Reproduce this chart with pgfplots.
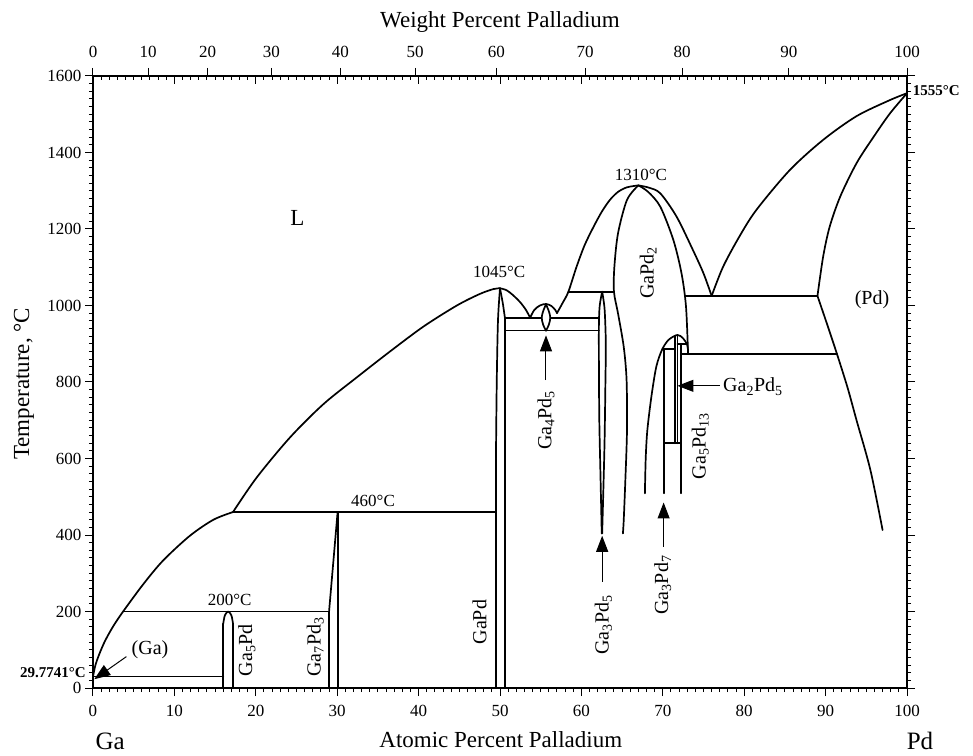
\documentclass[border=0pt]{standalone}
\usepackage{fontspec}
\setmainfont{Liberation Serif}
\usepackage{pgfplots}
\pgfplotsset{compat=1.18}
\usetikzlibrary{arrows.meta}
\begin{document}
\begin{tikzpicture}
\useasboundingbox (-93pt,-67pt) rectangle (880pt,688pt);
\pgfplotsset{
  base/.style={at={(0,0)}, anchor=south west, scale only axis,
    width=814pt, height=612pt, xmin=0, xmax=100, ymin=0, ymax=1600,
    axis line style={line width=1.2pt},
    major tick length=8pt, minor tick length=4pt,
    tick style={black, line width=1pt},
    /pgf/number format/assume math mode=true,
    /pgf/number format/1000 sep={},
    ticklabel style={font=\fontsize{17}{17}\selectfont}},
}
\tikzset{
  ph/.style={black, line width=1.7pt, line cap=round, line join=round},
  lab/.style={font=\fontsize{20}{20}\selectfont, inner sep=0pt},
  tlab/.style={font=\fontsize{17}{17}\selectfont, inner sep=0pt},
  arr/.style={line width=1pt, -{Triangle[length=16pt,width=12pt]}},
}
\begin{axis}[base, xtick={0,10,...,100}, minor x tick num=9,
  ytick={0,200,...,1600}, minor y tick num=9, tick align=outside,
  xtick pos=left, ytick pos=both, yticklabel pos=left, clip=false,
  xticklabel style={yshift=-6pt}]
% lower liquidus
\addplot[ph,smooth] coordinates {(0,29.8)(0.3,60)(0.8,90)(1.5,124)(2.5,162)(3.7,200)(6.2,272)(8.6,333)(11.9,398)(14.8,440)(17.2,460)};
% upper liquidus to GaPd
\addplot[ph,smooth] coordinates {(17.2,460)(20.1,550)(24.2,655)(28.3,742)(32.4,812)(36.5,880)(40.6,945)(44.7,1000)(47.5,1030)(49.2,1043)(50,1045)};
% invariant lines
\addplot[ph] coordinates {(17.2,460)(49.5,460)};
\addplot[ph] coordinates {(3.7,200)(29.0,200)};
\addplot[ph] coordinates {(0,29.8)(16.0,29.8)};
% Ga5Pd
\addplot[ph] coordinates {(16.0,0)(16.0,168)};
\addplot[ph] coordinates {(17.2,0)(17.2,168)};
\addplot[ph,smooth] coordinates {(16.0,168)(16.2,190)(16.6,200)(17.0,190)(17.2,168)};
% Ga7Pd3
\addplot[ph] coordinates {(29.0,0)(29.0,200)(30.05,460)};
\addplot[ph] coordinates {(30.1,460)(30.1,0)};
% GaPd
\addplot[ph,smooth] coordinates {(50,1045)(49.75,960)(49.6,800)(49.5,600)};
\addplot[ph] coordinates {(49.5,600)(49.5,0)};
\addplot[ph,smooth] coordinates {(50,1045)(50.35,1005)(50.6,968)};
\addplot[ph] coordinates {(50.6,968)(50.6,0)};
\addplot[ph] coordinates {(50.6,968)(55.12,968)};
\addplot[ph] coordinates {(56.18,968)(62.15,968)};
\addplot[ph] coordinates {(50.6,935)(62.15,935)};
% liquidus GaPd -> Ga4Pd5
\addplot[ph,smooth] coordinates {(50,1045)(50.8,1040)(51.6,1027)(52.5,1008)(53.2,988)(53.7,968)};
\addplot[ph,smooth] coordinates {(53.7,968)(54.2,988)(54.9,1000)(55.65,1004)(56.3,999)(56.8,988)(57.0,980)};
% Ga4Pd5 lens
\addplot[ph,smooth] coordinates {(55.65,1003)(55.3,985)(55.12,968)(55.3,950)(55.65,934)};
\addplot[ph,smooth] coordinates {(55.65,1003)(56.0,985)(56.18,968)(56.0,950)(55.65,934)};
% liquidus to GaPd2
\addplot[ph,smooth] coordinates {(57.0,980)(57.7,1007)(58.4,1036)(59.4,1101)(60.4,1158)(61.5,1206)(62.5,1245)(63.5,1276)(64.5,1297)(65.6,1309)(67,1314)};
\addplot[ph] coordinates {(58.4,1036)(64.0,1036)};
% Ga3Pd5
\addplot[ph,smooth] coordinates {(62.55,1036)(62.25,1000)(62.15,950)(62.15,850)(62.2,700)(62.35,550)(62.5,404)};
\addplot[ph,smooth] coordinates {(62.55,1036)(62.85,990)(63.0,900)(62.95,800)(62.85,650)(62.7,520)(62.55,404)};
% GaPd2
\addplot[ph,smooth] coordinates {(67,1314)(65.6,1276)(64.5,1189)(64.05,1101)(64.0,1036)(64.5,979)(65.2,892)(65.55,805)(65.6,674)(65.4,544)(65.2,439)(65.1,404)};
\addplot[ph,smooth] coordinates {(67,1314)(68.2,1297)(69.7,1258)(71.3,1171)(72.3,1084)(72.85,997)(73.1,875)};
\addplot[ph,smooth] coordinates {(67,1314)(68.3,1308)(69.7,1293)(71.7,1232)(73.7,1145)(75.0,1084)(76.0,1025)};
\addplot[ph] coordinates {(72.75,1025)(89.0,1025)};
% Pd side
\addplot[ph,smooth] coordinates {(76.0,1025)(77.4,1101)(79.4,1180)(81.5,1250)(85.6,1354)(89.7,1433)(93.8,1495)(97.9,1537)(100,1555)};
\addplot[ph,smooth] coordinates {(100,1555)(97.9,1502)(95.9,1441)(93.8,1372)(91.8,1285)(90.5,1206)(89.7,1128)(89.0,1025)};
\addplot[ph,smooth] coordinates {(89.0,1025)(90.2,950)(91.4,873)(92.7,785)(93.8,700)(95.5,570)(97.0,413)};
\addplot[ph] coordinates {(72.2,873)(91.4,873)};
% Ga3Pd7 / Ga2Pd5 / Ga5Pd13 cluster
\addplot[ph,smooth] coordinates {(67.8,509)(67.9,600)(68.1,674)(68.6,762)(69.2,840)(69.9,884)(70.7,910)(71.8,923)(72.5,914)(73.0,897)(73.1,879)};
\addplot[ph] coordinates {(69.95,887)(71.5,887)};
\addplot[ph] coordinates {(70.15,887)(70.15,509)};
\addplot[ph] coordinates {(71.5,921)(71.5,640)};
\addplot[ph] coordinates {(71.8,923)(71.8,640)};
\addplot[ph] coordinates {(70.15,640)(72.2,640)};
\addplot[ph] coordinates {(72.2,900)(72.2,509)};
\addplot[ph] coordinates {(71.8,900)(72.95,900)};
% labels
\node[font=\fontsize{23}{23}\selectfont] at (axis cs:25.1,1229) {L};
\node[tlab] at (axis cs:49.9,1088) {1045°C};
\node[tlab] at (axis cs:67.3,1341) {1310°C};
\node[tlab] at (axis cs:34.4,489) {460°C};
\node[tlab] at (axis cs:16.8,230) {200°C};
\node[lab] at (axis cs:7.0,99) {(Ga)};
\node[lab] at (axis cs:95.7,1014) {(Pd)};
\node[lab,rotate=90] at (axis cs:47.5,172) {GaPd};
\node[lab,rotate=90] at (axis cs:18.9,99) {Ga\textsubscript{5}Pd};
\node[lab,rotate=90] at (axis cs:27.3,107) {Ga\textsubscript{7}Pd\textsubscript{3}};
\node[lab,rotate=90] at (axis cs:68.2,1086) {GaPd\textsubscript{2}};
\node[lab,rotate=90] at (axis cs:55.65,700) {Ga\textsubscript{4}Pd\textsubscript{5}};
\node[lab,rotate=90] at (axis cs:62.7,165) {Ga\textsubscript{3}Pd\textsubscript{5}};
\node[lab,rotate=90] at (axis cs:70.0,269) {Ga\textsubscript{3}Pd\textsubscript{7}};
\node[lab,rotate=90] at (axis cs:74.6,633) {Ga\textsubscript{5}Pd\textsubscript{13}};
\node[lab,anchor=west] at (axis cs:77.4,788) {Ga\textsubscript{2}Pd\textsubscript{5}};
\draw[arr] (axis cs:4.1,82) -- (axis cs:0.16,23);
\draw[arr] (axis cs:55.65,805) -- (axis cs:55.65,922);
\draw[arr] (axis cs:62.55,278) -- (axis cs:62.55,398);
\draw[arr] (axis cs:70.1,369) -- (axis cs:70.1,485);
\draw[arr] (axis cs:77.0,790) -- (axis cs:71.8,790);
% outer texts
\node[font=\bfseries\fontsize{15}{15}\selectfont, anchor=west, inner sep=0pt] at (axis cs:100.7,1563) {1555°C};
\node[font=\bfseries\fontsize{15}{15}\selectfont, anchor=east, inner sep=0pt] at (axis cs:-0.86,39) {29.7741°C};
\node[font=\fontsize{23}{23}\selectfont] at (axis cs:50.1,-136) {Atomic Percent Palladium};
\node[font=\fontsize{25}{25}\selectfont] at (axis cs:2.1,-139) {Ga};
\node[font=\fontsize{25}{25}\selectfont] at (axis cs:101.6,-139) {Pd};
\node[font=\fontsize{23}{23}\selectfont, rotate=90] at (axis cs:-8.5,795) {Temperature, °C};
\node[font=\fontsize{23}{23}\selectfont] at (axis cs:50,1741) {Weight Percent Palladium};
\end{axis}
\begin{axis}[base, xtick={0,10,...,100}, minor x tick num=9, ytick=\empty,
  tick align=inside, xtick pos=right, xticklabel=\empty]
\end{axis}
\begin{axis}[base, xtick={0,6.786,14.074,21.923,30.400,39.583,49.565,60.454,72.381,85.500,100},
  xticklabels={0,10,20,30,40,50,60,70,80,90,100}, ytick=\empty,
  tick align=outside, xtick pos=right, xticklabel pos=right,
  xticklabel style={yshift=7pt}]
\end{axis}
\end{tikzpicture}
\end{document}
